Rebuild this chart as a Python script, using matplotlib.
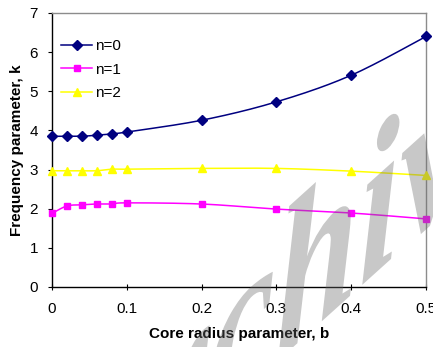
import numpy as np
import matplotlib
matplotlib.use("Agg")
import matplotlib.pyplot as plt
import matplotlib.patheffects as pe
from matplotlib.transforms import Affine2D
from matplotlib.lines import Line2D

# ---- data ----
b = [0, 0.02, 0.04, 0.06, 0.08, 0.1, 0.2, 0.3, 0.4, 0.5]
k_n0 = [3.85, 3.85, 3.85, 3.88, 3.91, 3.96, 4.26, 4.73, 5.41, 6.40]
k_n1 = [1.88, 2.07, 2.10, 2.12, 2.12, 2.15, 2.12, 1.99, 1.89, 1.74]
k_n2 = [2.97, 2.97, 2.97, 2.97, 3.01, 3.01, 3.03, 3.03, 2.96, 2.85]
series_labels = ["n=0", "n=1", "n=2"]
x_ticks = [0, 0.1, 0.2, 0.3, 0.4, 0.5]
x_ticklabels = ["0", "0.1", "0.2", "0.3", "0.4", "0.5"]
y_ticks = [0, 1, 2, 3, 4, 5, 6, 7]
x_label = "Core radius parameter, b"
y_label = "Frequency parameter, k"
watermark = "Archive"

plt.rcParams['font.family'] = ['Liberation Sans', 'DejaVu Sans']


def smooth_curve(x, y, n=24):
    """Excel-like smoothed line (cubic Bezier through the points)."""
    p = np.column_stack([x, y]).astype(float)
    pts = np.vstack([p[0], p, p[-1]])
    out = []
    for i in range(1, len(pts) - 2):
        p0, p1, p2, p3 = pts[i - 1], pts[i], pts[i + 1], pts[i + 2]
        c1 = p1 + (p2 - p0) / 6.0
        c2 = p2 - (p3 - p1) / 6.0
        t = np.linspace(0, 1, n)[:, None]
        seg = ((1 - t) ** 3) * p1 + 3 * ((1 - t) ** 2) * t * c1 + 3 * (1 - t) * t ** 2 * c2 + t ** 3 * p2
        out.append(seg if i == 1 else seg[1:])
    s = np.vstack(out)
    return s[:, 0], s[:, 1]


class Shear(pe.AbstractPathEffect):
    def __init__(self, ydeg, sx=1.0):
        super().__init__()
        self.ydeg = ydeg
        self.sx = sx

    def draw_path(self, renderer, gc, tpath, affine, rgbFace=None):
        extra = Affine2D().scale(self.sx, 1.0).skew_deg(0, self.ydeg)
        renderer.draw_path(gc, tpath, extra + affine, rgbFace)


W, H = 433, 347
fig = plt.figure(figsize=(W / 100, H / 100), dpi=100)
ax = fig.add_axes([52 / W, 1 - 287 / H, (426 - 52) / W, (287 - 13) / H])

styles = [
    dict(color="#000080", marker="D", ms=5.0),
    dict(color="#FF00FF", marker="s", ms=5.0),
    dict(color="#FFFF00", marker="^", ms=6.0),
]
handles = []
for ks, st, lab in zip([k_n0, k_n1, k_n2], styles, series_labels):
    xs, ys = smooth_curve(b, ks)
    ax.plot(xs, ys, color=st["color"], lw=1.1, zorder=2, clip_on=False)
    ax.plot(b, ks, ls="none", marker=st["marker"], ms=st["ms"], color=st["color"],
            mec=st["color"], zorder=3, clip_on=False)
    handles.append(Line2D([], [], color=st["color"], lw=1.1, marker=st["marker"],
                          ms=st["ms"], mec=st["color"], label=lab))

ax.set_xlim(0, 0.5)
ax.set_ylim(0, 7)
ax.set_xticks(x_ticks)
ax.set_xticklabels(x_ticklabels)
ax.set_yticks(y_ticks)
ax.tick_params(axis="both", length=3, width=0.8, labelsize=11, colors="black")
ax.tick_params(axis="x", direction="inout", length=5, pad=8)
ax.tick_params(axis="y", direction="out", pad=7)
for s in ["left", "bottom"]:
    ax.spines[s].set_color("black")
    ax.spines[s].set_linewidth(1.0)
for s in ["top", "right"]:
    ax.spines[s].set_color("#8c8c8c")
    ax.spines[s].set_linewidth(1.0)

ax.set_xlabel(x_label, fontsize=11, fontweight="bold", labelpad=8)
ax.set_ylabel(y_label, fontsize=11, fontweight="bold", labelpad=4)

leg = ax.legend(handles=handles, loc="upper left", bbox_to_anchor=(-0.012, 0.955),
                frameon=False, fontsize=11, handlelength=2.0, handletextpad=0.2,
                labelspacing=0.62, borderaxespad=0.5)

# watermark (semi-transparent gray, sheared)
fig.text(50 / W, (H - 566) / H, watermark, fontsize=150, family="Liberation Serif",
         fontweight="bold", fontstyle="italic", color="#6a6a6a", alpha=0.37,
         ha="left", va="baseline", zorder=10,
         path_effects=[Shear(42, sx=0.72)])

fig.savefig("out.png", dpi=100)
